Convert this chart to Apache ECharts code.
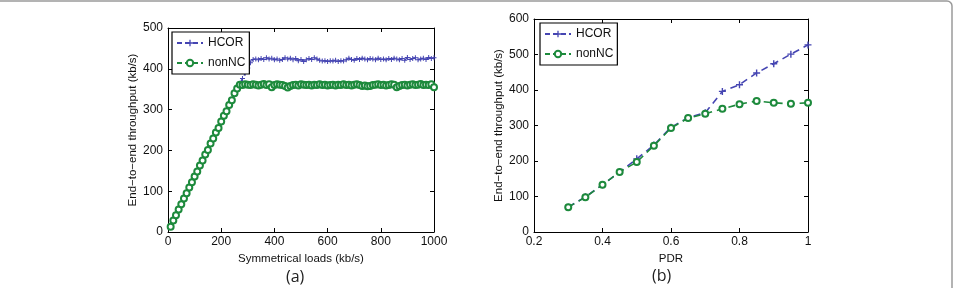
<!DOCTYPE html>
<html>
<head>
<meta charset="utf-8">
<script src="https://cdn.jsdelivr.net/npm/echarts@6/dist/echarts.min.js"></script>
<style>
html, body { margin: 0; padding: 0; background: #fff; }
#main { width: 958px; height: 288px; }
</style>
</head>
<body>
<div id="main"></div>
<script>
// (a) throughput vs symmetrical load
var loads = [10, 20, 30, 40, 50, 60, 70, 80, 90, 100,
    110, 120, 130, 140, 150, 160, 170, 180, 190, 200,
    210, 220, 230, 240, 250, 260, 270, 280, 290, 300,
    310, 320, 330, 340, 350, 360, 370, 380, 390, 400,
    410, 420, 430, 440, 450, 460, 470, 480, 490, 500,
    510, 520, 530, 540, 550, 560, 570, 580, 590, 600,
    610, 620, 630, 640, 650, 660, 670, 680, 690, 700,
    710, 720, 730, 740, 750, 760, 770, 780, 790, 800,
    810, 820, 830, 840, 850, 860, 870, 880, 890, 900,
    910, 920, 930, 940, 950, 960, 970, 980, 990, 1000];
var hcorA = [13, 27, 40, 54, 68, 81, 95, 108, 122, 135,
    149, 162, 175, 189, 202, 216, 230, 243, 256, 270,
    284, 297, 310, 324, 338, 351, 364, 376, 389, 402,
    415, 423, 424, 422, 425, 423, 427, 424, 426, 422,
    424, 421, 423, 427, 424, 426, 422, 425, 420, 423,
    418, 422, 425, 423, 427, 424, 421, 419, 420, 418,
    420, 419, 421, 418, 420, 419, 422, 426, 423, 421,
    425, 423, 426, 424, 422, 425, 424, 422, 426, 423,
    424, 422, 425, 423, 426, 424, 422, 425, 421, 428,
    423, 425, 427, 422, 424, 426, 423, 428, 425, 427];
var noncA = [13, 28, 41, 55, 68, 82, 95, 109, 122, 136,
    148, 163, 175, 190, 201, 217, 229, 244, 255, 271,
    285, 296, 311, 323, 340, 352, 361, 360, 362, 361,
    360, 362, 361, 359, 361, 363, 360, 362, 355, 360,
    362, 361, 360, 358, 354, 358, 360, 361, 359, 362,
    361, 360, 361, 359, 361, 360, 362, 360, 361, 359,
    360, 361, 359, 361, 360, 362, 360, 361, 359, 361,
    362, 360, 358, 359, 357, 358, 360, 361, 362, 360,
    361, 359, 360, 362, 361, 355, 358, 360, 361, 359,
    361, 362, 360, 361, 363, 360, 361, 360, 362, 355];

// (b) throughput vs PDR
var pdr = [0.3, 0.35, 0.4, 0.45, 0.5, 0.55, 0.6, 0.65, 0.7, 0.75, 0.8, 0.85, 0.9, 0.95, 1.0];
var hcorB = [70, 99, 133, 169, 206, 245, 295, 322, 336, 396, 415, 448, 474, 501, 527];
var noncB = [70, 98, 133, 169, 197, 243, 293, 321, 333, 347, 360, 369, 364, 361, 364];

var blue = '#4545b2';
var green = '#1d8a3c';
var plus = 'path://M4,0H6V4H10V6H6V10H4V6H0V4H4Z';
var font = 'Liberation Sans';

function pairs(xs, ys) {
    return xs.map(function (x, i) { return [x, ys[i]]; });
}

function xAx(grid, pos, min, max, step, name, labels) {
    return {
        type: 'value', gridIndex: grid, position: pos,
        min: min, max: max, interval: step,
        name: labels ? name : '', nameLocation: 'middle', nameGap: 17,
        nameTextStyle: { color: '#111', fontSize: 11.5, fontFamily: font },
        axisLine: { show: true, onZero: false, lineStyle: { color: '#000', width: 1 } },
        axisTick: { show: true, inside: true, length: 4, lineStyle: { color: '#000' } },
        axisLabel: {
            show: labels, margin: 4, color: '#111', fontSize: 12, fontFamily: font,
            formatter: function (v) { return String(Math.round(v * 10) / 10); }
        },
        splitLine: { show: false }
    };
}

function yAx(grid, pos, max, name, labels) {
    return {
        type: 'value', gridIndex: grid, position: pos,
        min: 0, max: max, interval: 100,
        name: labels ? name : '', nameLocation: 'middle', nameGap: 28,
        nameTextStyle: { color: '#111', fontSize: 11.5, fontFamily: font },
        axisLine: { show: true, onZero: false, lineStyle: { color: '#000', width: 1 } },
        axisTick: { show: true, inside: true, length: 4, lineStyle: { color: '#000' } },
        axisLabel: { show: labels, margin: 5, color: '#111', fontSize: 12, fontFamily: font },
        splitLine: { show: false }
    };
}

function legendAt(left, top) {
    return {
        left: left, top: top, orient: 'vertical',
        data: ['HCOR', 'nonNC'],
        backgroundColor: '#fff', borderColor: '#000', borderWidth: 1.2,
        padding: [5, 4, 5, 4], itemGap: 8, itemWidth: 26, itemHeight: 8,
        textStyle: { color: '#111', fontSize: 12, fontFamily: font },
        selectedMode: false
    };
}

var yName = 'End\u2212to\u2212end throughput (kb/s)';

var myChart = echarts.init(document.getElementById('main'), null, { renderer: 'canvas' });
var option = {
    animation: false,
    backgroundColor: '#fff',
    grid: [
        { left: 168, top: 28, width: 266, height: 204 },
        { left: 534, top: 19, width: 274, height: 213 }
    ],
    xAxis: [
        xAx(0, 'bottom', 0, 1000, 200, 'Symmetrical loads (kb/s)', true),
        xAx(0, 'top', 0, 1000, 200, '', false),
        xAx(1, 'bottom', 0.2, 1, 0.2, 'PDR', true),
        xAx(1, 'top', 0.2, 1, 0.2, '', false)
    ],
    yAxis: [
        yAx(0, 'left', 500, yName, true),
        yAx(0, 'right', 500, '', false),
        yAx(1, 'left', 600, yName, true),
        yAx(1, 'right', 600, '', false)
    ],
    legend: [legendAt(172, 32), legendAt(540, 23)],
    graphic: [
        {
            type: 'rect', silent: true,
            shape: { x: -20, y: 1, width: 972, height: 320, r: 5 },
            style: { fill: 'none', stroke: '#9a9a9a', lineWidth: 1.5 }
        },
        {
            type: 'text', left: 286, top: 269,
            style: { text: '(a)', fontSize: 16, fontFamily: 'Open Sans', fill: '#222' }
        },
        {
            type: 'text', left: 652, top: 268,
            style: { text: '(b)', fontSize: 16, fontFamily: 'Open Sans', fill: '#222' }
        }
    ],
    series: [
        {
            name: 'HCOR', type: 'line', xAxisIndex: 0, yAxisIndex: 0,
            data: pairs(loads, hcorA),
            symbol: plus, symbolSize: 5,
            itemStyle: { color: blue },
            lineStyle: { color: blue, width: 1.3, type: [5, 3] }
        },
        {
            name: 'nonNC', type: 'line', xAxisIndex: 0, yAxisIndex: 0,
            data: pairs(loads, noncA),
            symbol: 'emptyCircle', symbolSize: 6,
            itemStyle: { color: green, borderColor: green, borderWidth: 1.8 },
            lineStyle: { color: green, width: 1.3, type: [5, 3] }
        },
        {
            name: 'HCOR', type: 'line', xAxisIndex: 2, yAxisIndex: 2,
            data: pairs(pdr, hcorB),
            symbol: plus, symbolSize: 7,
            itemStyle: { color: blue },
            lineStyle: { color: blue, width: 1.6, type: [7, 5] }
        },
        {
            name: 'nonNC', type: 'line', xAxisIndex: 2, yAxisIndex: 2,
            data: pairs(pdr, noncB),
            symbol: 'emptyCircle', symbolSize: 6,
            itemStyle: { color: green, borderColor: green, borderWidth: 1.8 },
            lineStyle: { color: green, width: 1.6, type: [7, 5] }
        }
    ]
};
myChart.setOption(option, true);
</script>
</body>
</html>
